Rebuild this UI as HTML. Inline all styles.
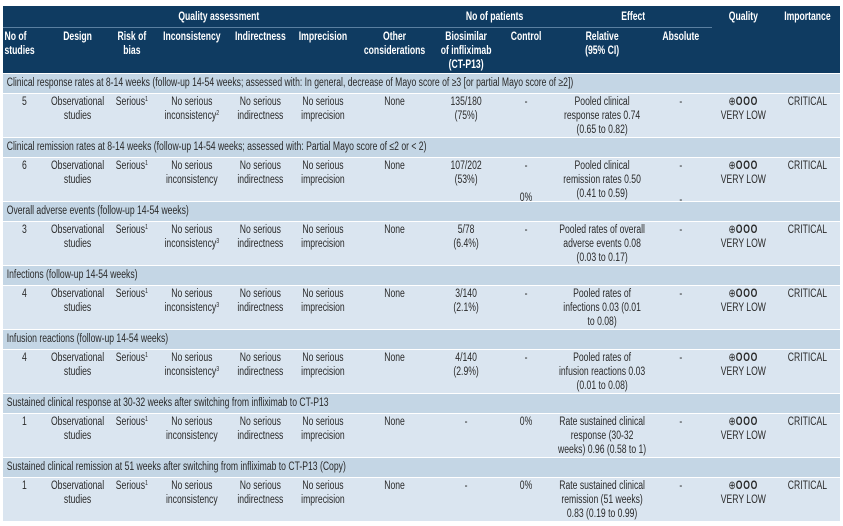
<!DOCTYPE html>
<html><head><meta charset="utf-8"><style>
body{margin:0;width:843px;height:526px;background:#fff;overflow:hidden;font-family:"Liberation Sans",Arial,sans-serif;position:relative}
.hd{position:absolute;left:3px;top:6px;width:837px;height:67px;background:#0f3b61}
.hl{position:absolute;left:3px;top:27px;width:709px;height:1px;background:#5a7fa0}
.bd{position:absolute;left:3px;top:73px;width:837px;height:448px;background:repeating-linear-gradient(to bottom,#fff 0,#fff 1px,#c4d6e5 1px,#c4d6e5 20px,#fff 20px,#fff 21px,#dae5f0 21px,#dae5f0 64px)}
table{position:absolute;left:3px;top:6px;width:1117px;border-collapse:collapse;table-layout:fixed;font-size:11.5px;color:#2a2a2a;transform:scaleX(0.7493);transform-origin:0 0}
td,th{padding:0 2px;text-align:center;vertical-align:top;line-height:14px;overflow:hidden;border:none;background:transparent}
th{color:#fff;font-weight:bold;white-space:nowrap}
tr.h1 th{height:21px;vertical-align:middle}
tr.h1 th.q{vertical-align:top;padding-top:4px}
tr.h2 th{height:43px;padding-top:3px}
tr.s td{text-align:left;height:20px;padding:0 0 0 5px;line-height:20px;white-space:nowrap;overflow:hidden}
tr.d td{height:42px;padding-top:2px;padding-bottom:0;white-space:nowrap}
sup{font-size:7px;line-height:0;vertical-align:4px}
.circ b{font-weight:bold;letter-spacing:1px}
</style></head><body>
<div class="hd"></div><div class="hl"></div><div class="bd"></div>
<table>
<colgroup><col style="width:57px"><col style="width:85px"><col style="width:60px"><col style="width:100px"><col style="width:83px"><col style="width:84px"><col style="width:107px"><col style="width:84px"><col style="width:76px"><col style="width:127px"><col style="width:83px"><col style="width:84px"><col style="width:87px"></colgroup>
<tr class="h1"><th colspan="7">Quality assessment</th><th colspan="2">No of patients</th><th colspan="2">Effect</th><th class="q" rowspan="2">Quality</th><th class="q" rowspan="2">Importance</th></tr>
<tr class="h2"><th style="text-align:left">No of<br>studies</th><th>Design</th><th>Risk of<br>bias</th><th>Inconsistency</th><th>Indirectness</th><th>Imprecision</th><th>Other<br>considerations</th><th>Biosimilar<br>of infliximab<br>(CT-P13)</th><th>Control</th><th>Relative<br>(95% CI)</th><th>Absolute</th></tr>

<tr class="s"><td colspan="13">Clinical response rates at 8-14 weeks (follow-up 14-54 weeks; assessed with: In general, decrease of Mayo score of ≥3 [or partial Mayo score of ≥2])</td></tr>
<tr class="d"><td>5</td><td>Observational<br>studies</td><td>Serious<sup>1</sup></td><td>No serious<br>inconsistency<sup>2</sup></td><td>No serious<br>indirectness</td><td>No serious<br>imprecision</td><td>None</td><td>135/180<br>(75%)</td><td>-</td><td>Pooled clinical<br>response rates 0.74<br>(0.65 to 0.82)</td><td>-</td><td class="circ">⊕<b>OOO</b><br>VERY LOW</td><td>CRITICAL</td></tr>

<tr class="s"><td colspan="13">Clinical remission rates at 8-14 weeks (follow-up 14-54 weeks; assessed with: Partial Mayo score of ≤2 or &lt; 2)</td></tr>
<tr class="d"><td>6</td><td>Observational<br>studies</td><td>Serious<sup>1</sup></td><td>No serious<br>inconsistency</td><td>No serious<br>indirectness</td><td>No serious<br>imprecision</td><td>None</td><td>107/202<br>(53%)</td><td>-<br><span style="position:relative;top:18px">0%</span></td><td>Pooled clinical<br>remission rates 0.50<br>(0.41 to 0.59)</td><td>-<br><span style="position:relative;top:20px">-</span></td><td class="circ">⊕<b>OOO</b><br>VERY LOW</td><td>CRITICAL</td></tr>

<tr class="s"><td colspan="13">Overall adverse events (follow-up 14-54 weeks)</td></tr>
<tr class="d"><td>3</td><td>Observational<br>studies</td><td>Serious<sup>1</sup></td><td>No serious<br>inconsistency<sup>3</sup></td><td>No serious<br>indirectness</td><td>No serious<br>imprecision</td><td>None</td><td>5/78<br>(6.4%)</td><td>-</td><td>Pooled rates of overall<br>adverse events 0.08<br>(0.03 to 0.17)</td><td>-</td><td class="circ">⊕<b>OOO</b><br>VERY LOW</td><td>CRITICAL</td></tr>

<tr class="s"><td colspan="13">Infections (follow-up 14-54 weeks)</td></tr>
<tr class="d"><td>4</td><td>Observational<br>studies</td><td>Serious<sup>1</sup></td><td>No serious<br>inconsistency<sup>3</sup></td><td>No serious<br>indirectness</td><td>No serious<br>imprecision</td><td>None</td><td>3/140<br>(2.1%)</td><td>-</td><td>Pooled rates of<br>infections 0.03 (0.01<br>to 0.08)</td><td>-</td><td class="circ">⊕<b>OOO</b><br>VERY LOW</td><td>CRITICAL</td></tr>

<tr class="s"><td colspan="13">Infusion reactions (follow-up 14-54 weeks)</td></tr>
<tr class="d"><td>4</td><td>Observational<br>studies</td><td>Serious<sup>1</sup></td><td>No serious<br>inconsistency<sup>3</sup></td><td>No serious<br>indirectness</td><td>No serious<br>imprecision</td><td>None</td><td>4/140<br>(2.9%)</td><td>-</td><td>Pooled rates of<br>infusion reactions 0.03<br>(0.01 to 0.08)</td><td>-</td><td class="circ">⊕<b>OOO</b><br>VERY LOW</td><td>CRITICAL</td></tr>

<tr class="s"><td colspan="13">Sustained clinical response at 30-32 weeks after switching from infliximab to CT-P13</td></tr>
<tr class="d"><td>1</td><td>Observational<br>studies</td><td>Serious<sup>1</sup></td><td>No serious<br>inconsistency</td><td>No serious<br>indirectness</td><td>No serious<br>imprecision</td><td>None</td><td>-</td><td>0%</td><td>Rate sustained clinical<br>response (30-32<br>weeks) 0.96 (0.58 to 1)</td><td>-</td><td class="circ">⊕<b>OOO</b><br>VERY LOW</td><td>CRITICAL</td></tr>

<tr class="s"><td colspan="13">Sustained clinical remission at 51 weeks after switching from infliximab to CT-P13 (Copy)</td></tr>
<tr class="d"><td>1</td><td>Observational<br>studies</td><td>Serious<sup>1</sup></td><td>No serious<br>inconsistency</td><td>No serious<br>indirectness</td><td>No serious<br>imprecision</td><td>None</td><td>-</td><td>0%</td><td>Rate sustained clinical<br>remission (51 weeks)<br>0.83 (0.19 to 0.99)</td><td>-</td><td class="circ">⊕<b>OOO</b><br>VERY LOW</td><td>CRITICAL</td></tr>
</table>
</body></html>
